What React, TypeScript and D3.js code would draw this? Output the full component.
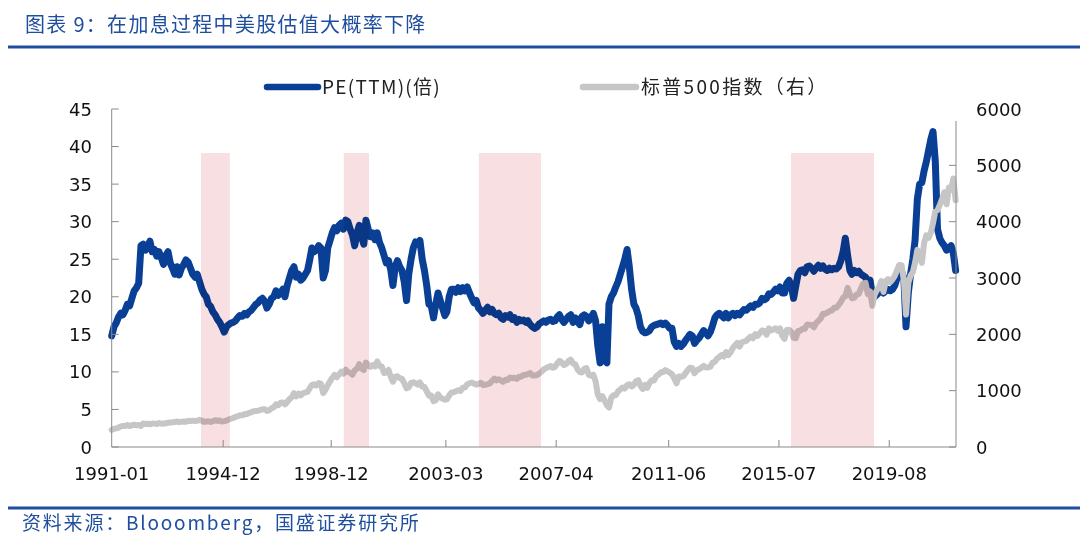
import React from "react";
import * as d3 from "d3";

// ---------- data (monthly, starting Oct 1990) ----------
const firstMonth = "1990-10-15";

const peTTM: number[] = [
  14.8, 16.0, 16.5,
  17.3, 17.8, 17.6, 18.2, 19.0, 18.8, 19.8, 20.8, 21.2, 21.8, 26.8, 27.0,
  26.2, 26.8, 27.4, 26.0, 26.3, 25.4, 26.0, 25.2, 24.3, 25.5, 26.0, 24.5,
  23.8, 23.0, 24.0, 22.9, 23.8, 24.3, 24.9, 24.6, 23.8, 23.0, 22.6, 23.0,
  22.0, 21.0, 20.4, 20.0, 19.0, 18.7, 18.0, 17.6, 17.0, 16.6, 16.0, 15.3,
  16.0, 16.3, 16.5, 16.6, 16.8, 17.2, 17.5, 17.4, 17.8, 17.6, 18.0, 18.2,
  18.6, 19.0, 19.2, 19.6, 19.8, 19.4, 18.5, 19.0, 19.8, 20.0, 20.8, 20.2,
  20.5, 21.0, 20.0, 21.5, 22.5, 23.5, 24.0, 22.6, 23.0, 22.2, 22.5, 23.0,
  23.5, 25.0, 26.5, 26.0, 26.2, 26.8, 26.5, 22.5, 23.5, 26.5, 27.5, 28.5,
  29.2, 28.8, 29.5, 29.8, 29.0, 30.2, 30.0, 29.0, 28.2, 26.8, 28.5, 29.5,
  28.0, 27.0, 30.2, 29.0, 28.0, 28.5, 27.6, 28.5, 27.2, 26.5, 25.5, 24.5,
  24.8, 23.5, 21.5, 24.0, 24.8, 24.0, 23.5, 22.0, 19.5, 23.0, 25.0, 26.5,
  27.3, 27.0, 27.5, 25.0, 23.5, 21.5, 19.0, 18.8, 17.2, 19.0, 20.5, 19.5,
  18.5, 17.5, 18.0, 20.0, 21.0, 21.0, 20.6, 21.2, 20.7, 21.2, 20.8, 21.3,
  20.5, 19.8, 19.2, 19.5, 18.5, 18.2, 17.8, 18.2, 18.6, 18.0, 18.3, 17.8,
  17.6, 17.8, 17.2, 17.0, 17.5, 17.3, 17.6, 17.0, 17.2, 16.6, 17.0, 16.8,
  16.9, 16.6, 16.8, 16.3, 16.0, 15.8, 16.0, 16.4, 16.6, 16.8, 16.6, 16.9,
  17.0, 16.7, 16.8, 17.3, 17.6, 17.0, 16.6, 17.0, 17.4, 17.6, 16.6, 17.2,
  16.7, 16.3, 17.4, 17.6, 17.4, 16.8, 17.2, 17.8, 16.8, 13.5, 11.2, 16.0,
  11.5, 11.2, 19.0, 20.0, 20.5, 21.3, 22.0, 23.0, 24.0, 25.0, 26.3, 24.0,
  21.0, 19.0, 18.5, 17.5, 16.0, 15.4, 15.2, 15.3, 15.5, 16.0, 16.2, 16.3,
  16.4, 16.5, 16.3, 16.5, 16.2, 15.8, 15.8, 14.0, 13.4, 13.8, 13.4, 13.7,
  14.2, 14.6, 15.0, 14.8, 13.8, 14.2, 14.5, 15.0, 15.5, 15.2, 14.8, 15.3,
  16.2, 17.2, 17.6, 17.8, 17.5, 17.2, 17.8, 17.2, 17.6, 17.8, 17.5, 17.8,
  17.6, 18.0, 18.3, 18.2, 18.5, 18.8, 18.6, 19.0, 19.0, 19.2, 19.8, 19.6,
  19.8, 20.4, 20.3, 20.6, 21.0, 20.8, 21.3, 20.5, 20.5, 21.8, 22.2, 21.5,
  19.8, 21.5, 23.0, 23.5, 23.6, 23.2, 24.0, 24.1, 23.8, 23.4, 23.8, 24.2,
  23.8, 24.1, 23.7, 23.5, 23.8, 23.6, 23.8, 23.7, 24.0, 24.8, 26.0, 27.8,
  25.5, 23.5, 23.0, 23.5, 23.2, 23.4, 23.0, 22.8, 22.6, 21.8, 22.2, 20.2,
  20.0, 20.3, 20.6, 21.0, 20.5, 20.8, 21.0, 20.8, 21.0, 21.5, 22.5, 23.0,
  23.3, 22.5, 16.0, 20.5, 23.0, 25.0, 27.5, 33.0, 35.0, 35.2, 36.8, 38.0,
  39.5, 41.0, 42.0, 38.0, 29.0, 27.8, 27.2, 26.8, 26.2, 26.5, 26.8, 25.8,
  23.5,
];

const spx500: number[] = [
  304, 322, 330,
  344, 367, 375, 375, 390, 371, 388, 395, 388, 392, 375, 417,
  409, 413, 404, 415, 415, 408, 424, 414, 418, 419, 431, 436,
  439, 443, 452, 440, 450, 451, 448, 464, 459, 468, 462, 466,
  482, 467, 446, 451, 457, 444, 458, 475, 463, 472, 454, 459,
  470, 487, 501, 515, 533, 545, 562, 562, 584, 582, 605, 616,
  636, 640, 645, 654, 669, 671, 640, 652, 687, 705, 757, 741,
  786, 791, 757, 801, 848, 885, 954, 899, 947, 915, 955, 970,
  980, 1049, 1102, 1112, 1091, 1134, 1121, 957, 1017, 1099, 1164, 1229,
  1280, 1238, 1286, 1335, 1302, 1373, 1329, 1320, 1283, 1363, 1389, 1469,
  1394, 1366, 1499, 1452, 1421, 1455, 1431, 1518, 1436, 1429, 1315, 1320,
  1366, 1240, 1160, 1249, 1256, 1224, 1211, 1134, 1041, 1060, 1139, 1148,
  1130, 1107, 1147, 1076, 1067, 990, 912, 916, 815, 830, 936, 880,
  856, 841, 848, 916, 964, 975, 990, 1008, 996, 1051, 1058, 1112,
  1131, 1145, 1126, 1107, 1121, 1141, 1101, 1104, 1115, 1130, 1174, 1212,
  1181, 1204, 1181, 1157, 1192, 1191, 1234, 1220, 1229, 1207, 1249, 1248,
  1280, 1281, 1295, 1311, 1270, 1270, 1277, 1304, 1336, 1378, 1401, 1418,
  1438, 1407, 1421, 1482, 1530, 1503, 1455, 1474, 1527, 1549, 1481, 1468,
  1378, 1331, 1323, 1386, 1400, 1280, 1267, 1283, 1166, 930, 850, 903,
  826, 740, 700, 873, 919, 919, 987, 1021, 1057, 1036, 1096, 1115,
  1074, 1104, 1169, 1187, 1089, 1031, 1102, 1049, 1141, 1183, 1181, 1258,
  1286, 1327, 1326, 1364, 1345, 1321, 1292, 1219, 1131, 1253, 1247, 1258,
  1312, 1366, 1408, 1398, 1310, 1362, 1379, 1407, 1441, 1412, 1416, 1426,
  1498, 1515, 1569, 1598, 1631, 1606, 1686, 1633, 1682, 1757, 1806, 1848,
  1783, 1859, 1872, 1884, 1924, 1960, 1931, 2003, 1972, 2018, 2068, 2059,
  1995, 2105, 2068, 2086, 2107, 2063, 2104, 1972, 1920, 2079, 2080, 2044,
  1940, 1932, 2060, 2065, 2097, 2099, 2174, 2171, 2168, 2126, 2199, 2239,
  2279, 2364, 2363, 2384, 2412, 2423, 2470, 2472, 2519, 2575, 2648, 2674,
  2824, 2714, 2641, 2648, 2705, 2718, 2816, 2902, 2914, 2712, 2760, 2507,
  2704, 2784, 2834, 2946, 2752, 2942, 2980, 2926, 2977, 3038, 3141, 3231,
  3226, 2954, 2350, 2912, 3044, 3100, 3271, 3500, 3363, 3270, 3622, 3756,
  3714, 3811, 3973, 4181, 4204, 4298, 4395, 4523, 4308, 4605, 4567, 4766,
  4380,
];

const xTickLabels = ["1991-01", "1994-12", "1998-12", "2003-03", "2007-04", "2011-06", "2015-07", "2019-08"];
const xTickDates = ["1990-10-15", "1994-12-01", "1998-12-01", "2003-03-01", "2007-04-01", "2011-06-01", "2015-07-01", "2019-08-01"];

const hikeStarts = ["1994-02-04", "1999-05-20", "2004-05-20", "2015-12-12"];
const hikeEnds = ["1995-03-01", "2000-04-25", "2006-09-08", "2019-01-08"];

const leftTicks = [0, 5, 10, 15, 20, 25, 30, 35, 40, 45];
const rightTicks = [0, 1000, 2000, 3000, 4000, 5000, 6000];

const titleText = "图表 9：在加息过程中美股估值大概率下降";
const sourceText = "资料来源：Blooomberg，国盛证券研究所";
const legendPE = "PE(TTM)(倍)";
const legendSPX = "标普500指数（右）";

// ---------- component ----------
const parse = d3.timeParse("%Y-%m-%d");

export default function App() {
  const W = 1080;
  const H = 541;
  const left = 111.7;
  const right = 956;
  const top = 109;
  const bottom = 447;

  const t0 = parse(firstMonth) as Date;
  const dates = peTTM.map((_, i) => d3.timeMonth.offset(t0, i));

  const x = d3
    .scaleTime()
    .domain([t0, parse("2022-01-20") as Date])
    .range([left, right]);
  const yL = d3.scaleLinear().domain([0, 45]).range([bottom, top]);
  const yR = d3.scaleLinear().domain([0, 6000]).range([bottom, top]);

  const pePath = d3
    .line<number>()
    .x((_, i) => x(dates[i]))
    .y((d) => yL(d))(peTTM) as string;
  const spxPath = d3
    .line<number>()
    .x((_, i) => x(dates[i]))
    .y((d) => yR(d))(spx500) as string;

  const axisColor = "#8a8a8a";
  const tickFont = "'DejaVu Sans', Verdana, sans-serif";
  const cjkFont = "'Noto Sans CJK SC', 'Noto Sans', sans-serif";
  const blue = "#0a3f96";
  const gray = "#c6c6c6";
  const brand = "#1f4e9e";

  return (
    <svg
      width={W}
      height={H}
      viewBox={`0 0 ${W} ${H}`}
      style={{ position: "absolute", left: 0, top: 0, background: "#fff" }}
    >
      <rect x={0} y={0} width={W} height={H} fill="#fff" />
      {/* title */}
      <text x={25} y={32} fontFamily={cjkFont} fontSize={20} letterSpacing={1.3} fill={brand}>
        {titleText}
      </text>
      <line x1={8} x2={1080} y1={47} y2={47} stroke={brand} strokeWidth={3} />

      {/* legend */}
      <line x1={267} x2={318} y1={87} y2={87} stroke={blue} strokeWidth={6.5} strokeLinecap="round" />
      <text x={322} y={94} fontFamily={cjkFont} fontSize={19} letterSpacing={1.3} fill="#222">
        {legendPE}
      </text>
      <line x1={583} x2={636} y1={87} y2={87} stroke={gray} strokeWidth={6.5} strokeLinecap="round" />
      <text x={641} y={94} fontFamily={cjkFont} fontSize={19} letterSpacing={2.3} fill="#222">
        {legendSPX}
      </text>

      {/* series */}
      <path d={pePath} fill="none" stroke={blue} strokeWidth={7} strokeLinejoin="round" strokeLinecap="round" />
      <path d={spxPath} fill="none" stroke={gray} strokeWidth={6} strokeLinejoin="round" strokeLinecap="round" />

      {/* rate-hike shading */}
      {hikeStarts.map((s, i) => {
        const x0 = x(parse(s) as Date);
        const x1 = x(parse(hikeEnds[i]) as Date);
        return (
          <rect
            key={s}
            x={x0}
            y={153}
            width={x1 - x0}
            height={bottom - 153}
            fill="#f8dfe2"
            style={{ mixBlendMode: "multiply" }}
          />
        );
      })}

      {/* left axis */}
      <line x1={left} x2={left} y1={top} y2={bottom} stroke={axisColor} strokeWidth={1} />
      {leftTicks.map((t) => (
        <g key={"l" + t}>
          <line x1={left} x2={left + 7} y1={yL(t)} y2={yL(t)} stroke={axisColor} strokeWidth={1} />
          <text x={92} y={yL(t) + 6.5} textAnchor="end" fontFamily={tickFont} fontSize={18} fill="#111">
            {t}
          </text>
        </g>
      ))}

      {/* right axis */}
      <line x1={right} x2={right} y1={121} y2={bottom} stroke={axisColor} strokeWidth={1} />
      {rightTicks.map((t) => (
        <g key={"r" + t}>
          {yR(t) >= 121 && (
            <line x1={right - 7} x2={right} y1={yR(t)} y2={yR(t)} stroke={axisColor} strokeWidth={1} />
          )}
          <text x={976} y={yR(t) + 6.5} textAnchor="start" fontFamily={tickFont} fontSize={18} fill="#111">
            {t}
          </text>
        </g>
      ))}

      {/* x axis */}
      <line x1={left} x2={right} y1={bottom} y2={bottom} stroke={axisColor} strokeWidth={1} />
      {xTickLabels.map((lab, i) => {
        const xx = x(parse(xTickDates[i]) as Date);
        return (
          <g key={lab}>
            {i > 0 && <line x1={xx} x2={xx} y1={bottom} y2={bottom - 7} stroke={axisColor} strokeWidth={1} />}
            <text x={xx} y={480} textAnchor="middle" fontFamily={tickFont} fontSize={18} fill="#111">
              {lab}
            </text>
          </g>
        );
      })}

      {/* footer */}
      <line x1={8} x2={1080} y1={508} y2={508} stroke={brand} strokeWidth={3} />
      <text x={22} y={530} fontFamily={cjkFont} fontSize={19} letterSpacing={1.8} fill={brand}>
        {sourceText}
      </text>
    </svg>
  );
}
